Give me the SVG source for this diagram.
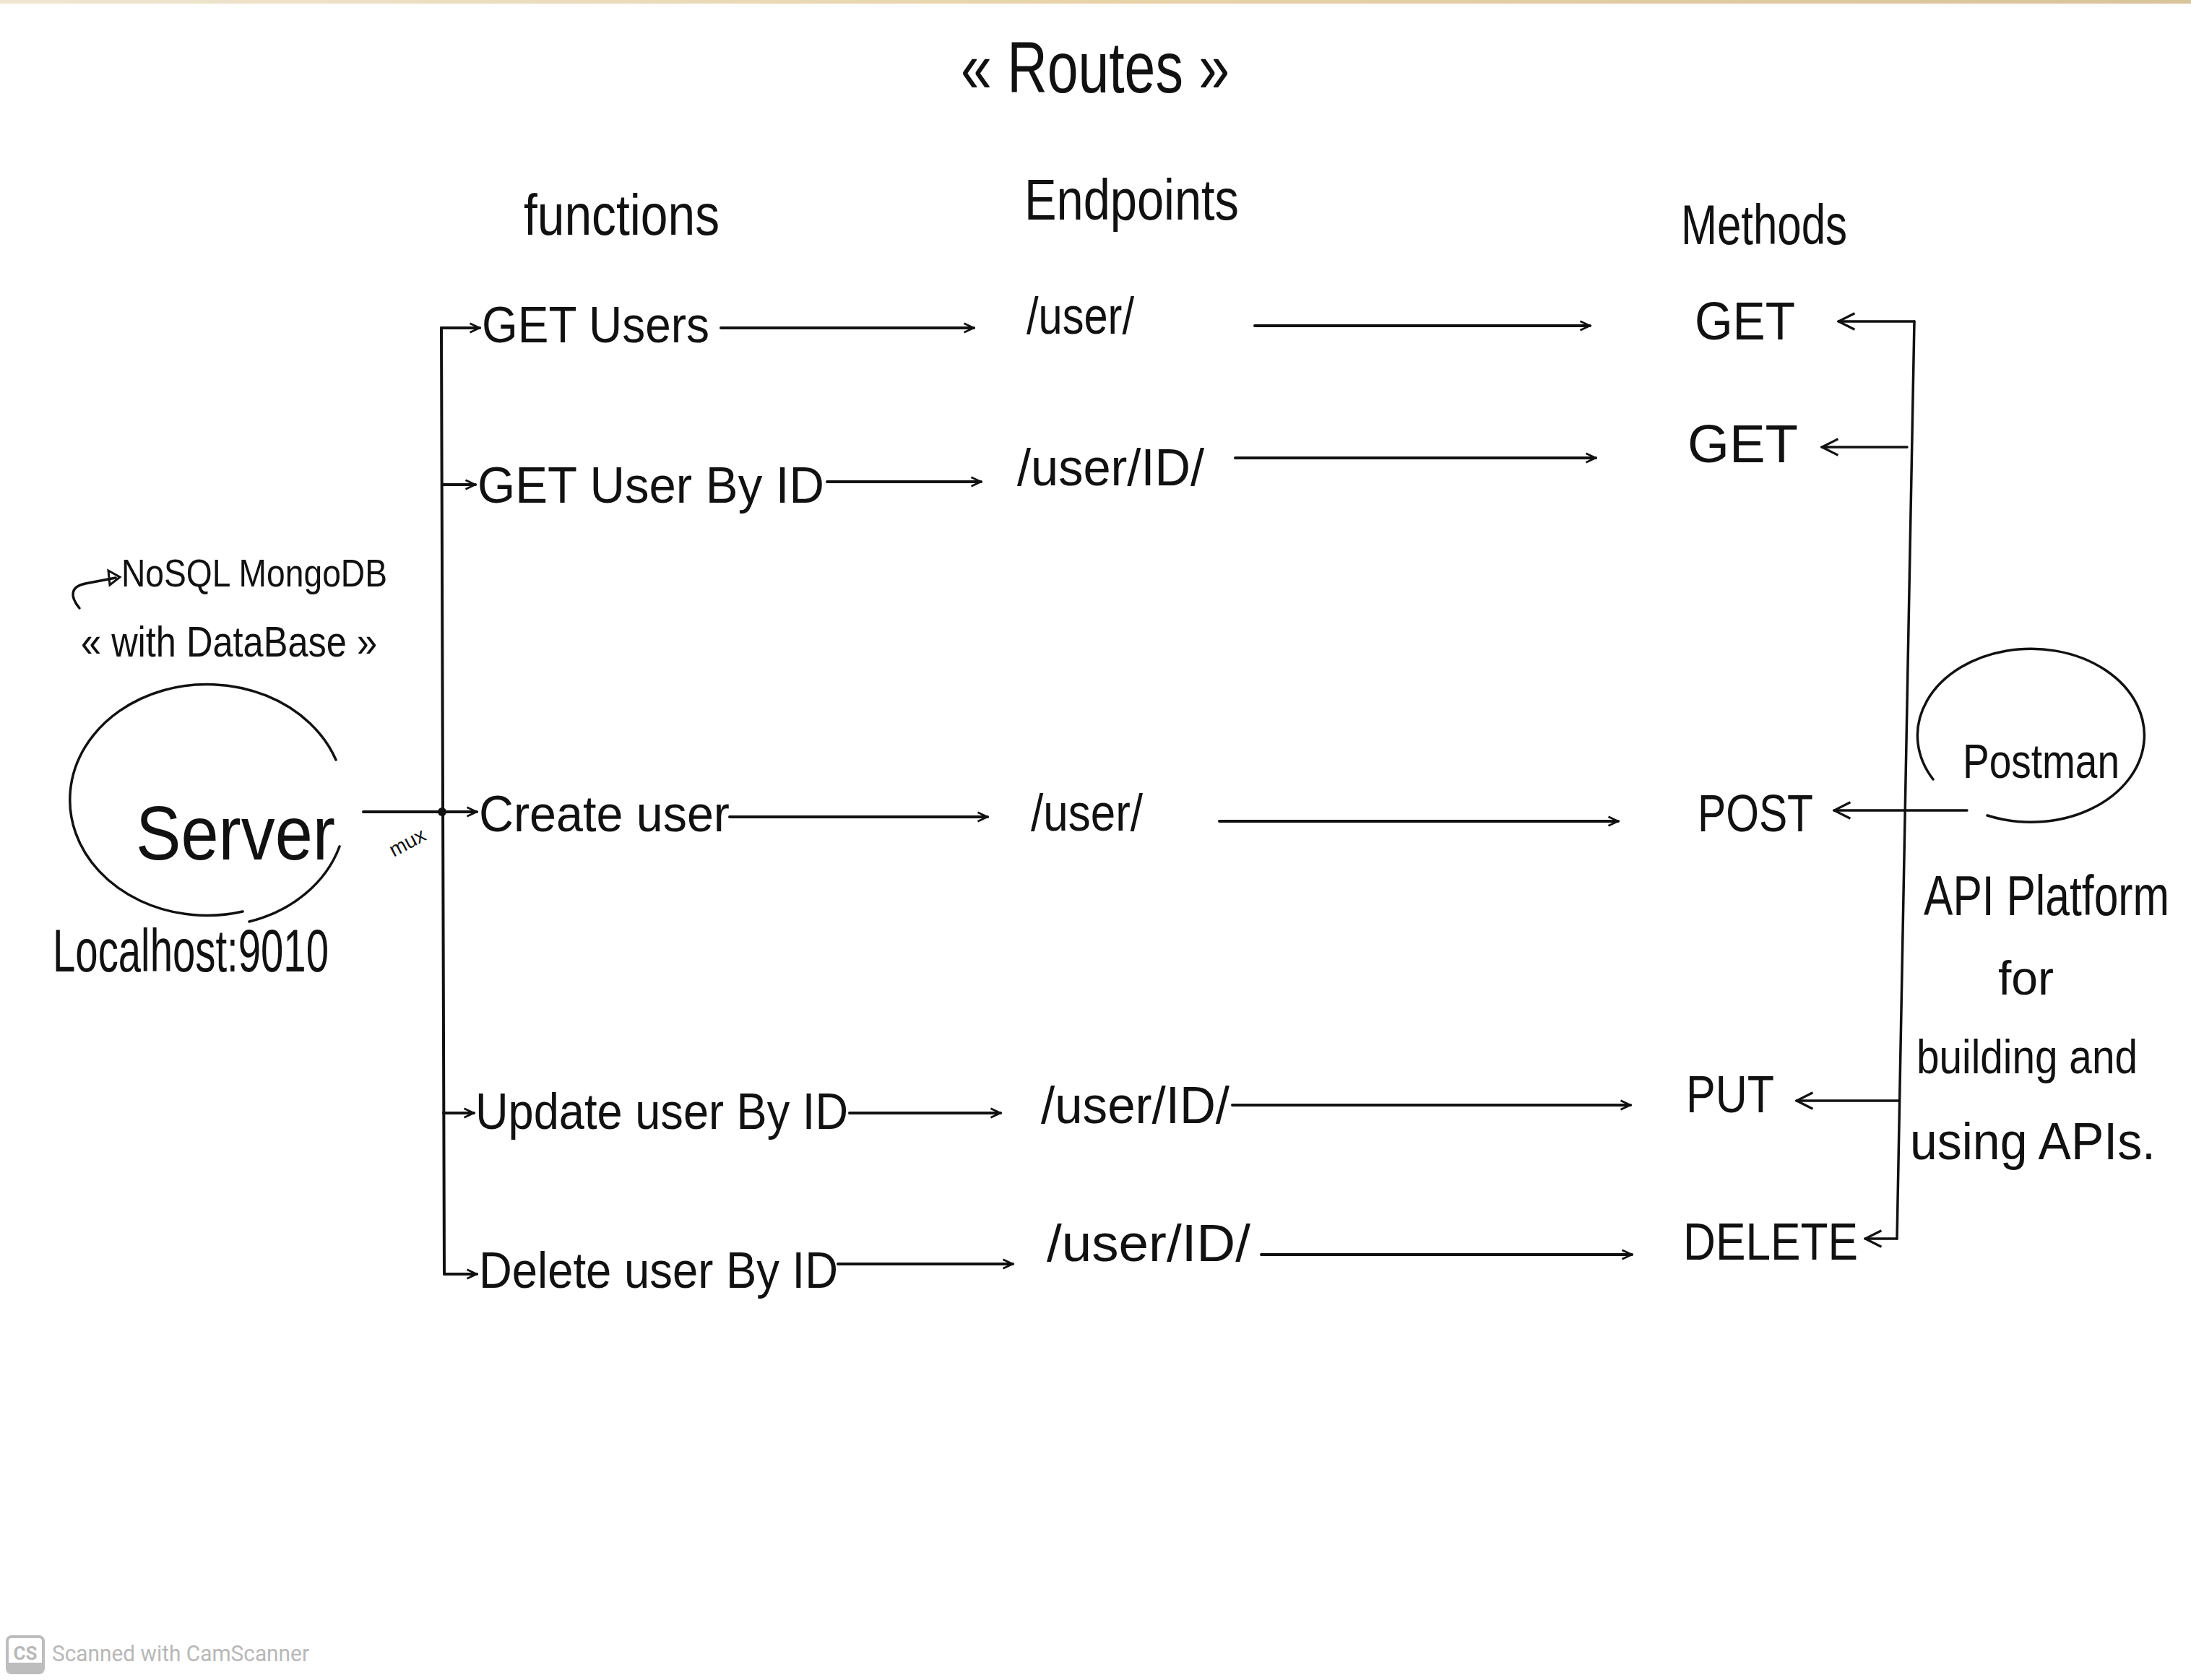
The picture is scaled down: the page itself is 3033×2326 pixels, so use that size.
<svg xmlns="http://www.w3.org/2000/svg" width="3033" height="2326" viewBox="0 0 3033 2326">
<style>
  .t { font-family: "Liberation Sans", "DejaVu Sans", sans-serif; fill: #111; }
  .ln { stroke: #111; stroke-width: 4; fill: none; stroke-linecap: round; }
  .thin { stroke: #111; stroke-width: 3.5; fill: none; stroke-linecap: round; }
  .wm { font-family: Roboto, "Liberation Sans", sans-serif; fill: #b8b8b8; }
</style>
<defs>
  <marker id="arr" viewBox="0 0 20 20" refX="18" refY="10" markerWidth="18" markerHeight="18" markerUnits="userSpaceOnUse" orient="auto">
    <path d="M3,3 L18,10 L3,17" fill="none" stroke="#111" stroke-width="3"/>
  </marker>
  <marker id="arrL" viewBox="0 0 30 30" refX="28" refY="15" markerWidth="28" markerHeight="28" markerUnits="userSpaceOnUse" orient="auto">
    <path d="M4,3 L28,15 L4,27" fill="none" stroke="#111" stroke-width="3.5"/>
  </marker>
  <linearGradient id="scan" x1="0" y1="0" x2="1" y2="0">
    <stop offset="0" stop-color="#efe6d2"/>
    <stop offset="0.5" stop-color="#e6d3a8"/>
    <stop offset="1" stop-color="#d8c49a"/>
  </linearGradient>
</defs>
<rect x="0" y="0" width="3033" height="2326" fill="#ffffff"/>
<rect x="0" y="0" width="3033" height="5" fill="url(#scan)"/>

<g id="title">
  <text class="t" x="1330" y="128" font-size="100" textLength="372" lengthAdjust="spacingAndGlyphs">« Routes »</text>
</g>
<g id="headers">
  <text class="t" x="725" y="325" font-size="80" textLength="271" lengthAdjust="spacingAndGlyphs">functions</text>
  <text class="t" x="1418" y="304" font-size="80" textLength="297" lengthAdjust="spacingAndGlyphs">Endpoints</text>
  <text class="t" x="2327" y="338" font-size="78" textLength="230" lengthAdjust="spacingAndGlyphs">Methods</text>
</g>

<g id="server">
  <path class="thin" d="M465,1052 A190,160 0 1,0 336,1262"/>
  <path class="thin" d="M345,1276 A185,158 0 0,0 470,1172"/>
  <text class="t" x="188" y="1190" font-size="105" textLength="276" lengthAdjust="spacingAndGlyphs">Server</text>
  <text class="t" x="73" y="1345" font-size="84" textLength="382" lengthAdjust="spacingAndGlyphs">Localhost:9010</text>
</g>
<g id="database-note">
  <path class="thin" d="M110,842 C96,825 98,812 118,808 L160,800"/>
  <path d="M150,790 L166,799 L152,810 Z" fill="none" stroke="#111" stroke-width="3"/>
  <text class="t" x="168" y="812" font-size="54" textLength="368" lengthAdjust="spacingAndGlyphs">NoSQL MongoDB</text>
  <text class="t" x="112" y="909" font-size="60" textLength="410" lengthAdjust="spacingAndGlyphs">« with DataBase »</text>
</g>
<g id="mux-label">
  <text class="t" x="0" y="0" font-size="28" transform="translate(545,1187) rotate(-28)">mux</text>
</g>

<g id="fn-get-users"><text class="t" x="667" y="474" font-size="70" textLength="315" lengthAdjust="spacingAndGlyphs">GET Users</text></g>
<g id="fn-get-user-by-id"><text class="t" x="661" y="696" font-size="70" textLength="480" lengthAdjust="spacingAndGlyphs">GET User By ID</text></g>
<g id="fn-create-user"><text class="t" x="663" y="1151" font-size="70" textLength="347" lengthAdjust="spacingAndGlyphs">Create user</text></g>
<g id="fn-update-user"><text class="t" x="658" y="1563" font-size="70" textLength="516" lengthAdjust="spacingAndGlyphs">Update user By ID</text></g>
<g id="fn-delete-user"><text class="t" x="663" y="1783" font-size="70" textLength="497" lengthAdjust="spacingAndGlyphs">Delete user By ID</text></g>

<g id="ep-1"><text class="t" x="1421" y="462" font-size="72" textLength="149" lengthAdjust="spacingAndGlyphs">/user/</text></g>
<g id="ep-2"><text class="t" x="1408" y="672" font-size="72" textLength="259" lengthAdjust="spacingAndGlyphs">/user/ID/</text></g>
<g id="ep-3"><text class="t" x="1427" y="1150" font-size="72" textLength="155" lengthAdjust="spacingAndGlyphs">/user/</text></g>
<g id="ep-4"><text class="t" x="1441" y="1555" font-size="72" textLength="261" lengthAdjust="spacingAndGlyphs">/user/ID/</text></g>
<g id="ep-5"><text class="t" x="1449" y="1746" font-size="72" textLength="282" lengthAdjust="spacingAndGlyphs">/user/ID/</text></g>

<g id="m-get-1"><text class="t" x="2346" y="470" font-size="74" textLength="139" lengthAdjust="spacingAndGlyphs">GET</text></g>
<g id="m-get-2"><text class="t" x="2336" y="640" font-size="74" textLength="153" lengthAdjust="spacingAndGlyphs">GET</text></g>
<g id="m-post"><text class="t" x="2350" y="1151" font-size="72" textLength="160" lengthAdjust="spacingAndGlyphs">POST</text></g>
<g id="m-put"><text class="t" x="2334" y="1540" font-size="72" textLength="122" lengthAdjust="spacingAndGlyphs">PUT</text></g>
<g id="m-delete"><text class="t" x="2330" y="1744" font-size="72" textLength="242" lengthAdjust="spacingAndGlyphs">DELETE</text></g>

<g id="postman">
  <path class="thin" d="M2676,1079 A157,120 0 1,1 2751,1129"/>
  <text class="t" x="2717" y="1077" font-size="66" textLength="217" lengthAdjust="spacingAndGlyphs">Postman</text>
  <text class="t" x="2663" y="1267" font-size="78" textLength="340" lengthAdjust="spacingAndGlyphs">API Platform</text>
  <text class="t" x="2766" y="1377" font-size="66" textLength="77" lengthAdjust="spacingAndGlyphs">for</text>
  <text class="t" x="2653" y="1486" font-size="66" textLength="306" lengthAdjust="spacingAndGlyphs">building and</text>
  <text class="t" x="2644" y="1605" font-size="72" textLength="340" lengthAdjust="spacingAndGlyphs">using APIs.</text>
</g>

<g id="connectors">
  <line class="ln" x1="503" y1="1124" x2="611" y2="1124"/>
  <circle cx="612" cy="1124" r="6" fill="#111"/>
  <line class="ln" x1="611" y1="454" x2="615" y2="1764"/>
  <line class="ln" x1="611" y1="454" x2="664" y2="454" marker-end="url(#arr)"/>
  <line class="ln" x1="613" y1="671" x2="658" y2="671" marker-end="url(#arr)"/>
  <line class="ln" x1="612" y1="1124" x2="660" y2="1124" marker-end="url(#arr)"/>
  <line class="ln" x1="614" y1="1541" x2="656" y2="1541" marker-end="url(#arr)"/>
  <line class="ln" x1="615" y1="1764" x2="660" y2="1764" marker-end="url(#arr)"/>
  <line class="ln" x1="998" y1="454" x2="1348" y2="454" marker-end="url(#arr)"/>
  <line class="ln" x1="1145" y1="667" x2="1358" y2="667" marker-end="url(#arr)"/>
  <line class="ln" x1="1010" y1="1131" x2="1367" y2="1131" marker-end="url(#arr)"/>
  <line class="ln" x1="1176" y1="1541" x2="1385" y2="1541" marker-end="url(#arr)"/>
  <line class="ln" x1="1160" y1="1750" x2="1402" y2="1750" marker-end="url(#arr)"/>
  <line class="ln" x1="1737" y1="451" x2="2201" y2="451" marker-end="url(#arr)"/>
  <line class="ln" x1="1710" y1="634" x2="2209" y2="634" marker-end="url(#arr)"/>
  <line class="ln" x1="1688" y1="1137" x2="2240" y2="1137" marker-end="url(#arr)"/>
  <line class="ln" x1="1706" y1="1530" x2="2257" y2="1530" marker-end="url(#arr)"/>
  <line class="ln" x1="1746" y1="1737" x2="2259" y2="1737" marker-end="url(#arr)"/>
  <line class="thin" x1="2650" y1="445" x2="2626" y2="1715"/>
  <line class="thin" x1="2650" y1="445" x2="2545" y2="445" marker-end="url(#arrL)"/>
  <line class="thin" x1="2640" y1="619" x2="2522" y2="619" marker-end="url(#arrL)"/>
  <line class="thin" x1="2723" y1="1122" x2="2539" y2="1122" marker-end="url(#arrL)"/>
  <line class="thin" x1="2629" y1="1524" x2="2487" y2="1524" marker-end="url(#arrL)"/>
  <line class="thin" x1="2626" y1="1715" x2="2582" y2="1715" marker-end="url(#arrL)"/>
</g>

<g id="watermark">
  <rect x="10" y="2266" width="50" height="50" rx="6" fill="#ffffff" stroke="#bdbdbd" stroke-width="4"/>
  <rect x="10" y="2302" width="50" height="14" fill="#bdbdbd"/>
  <text class="wm" x="35" y="2298" font-size="26" font-weight="bold" text-anchor="middle">CS</text>
  <text class="wm" x="72" y="2300" font-size="31" textLength="356" lengthAdjust="spacingAndGlyphs">Scanned with CamScanner</text>
</g>
</svg>
